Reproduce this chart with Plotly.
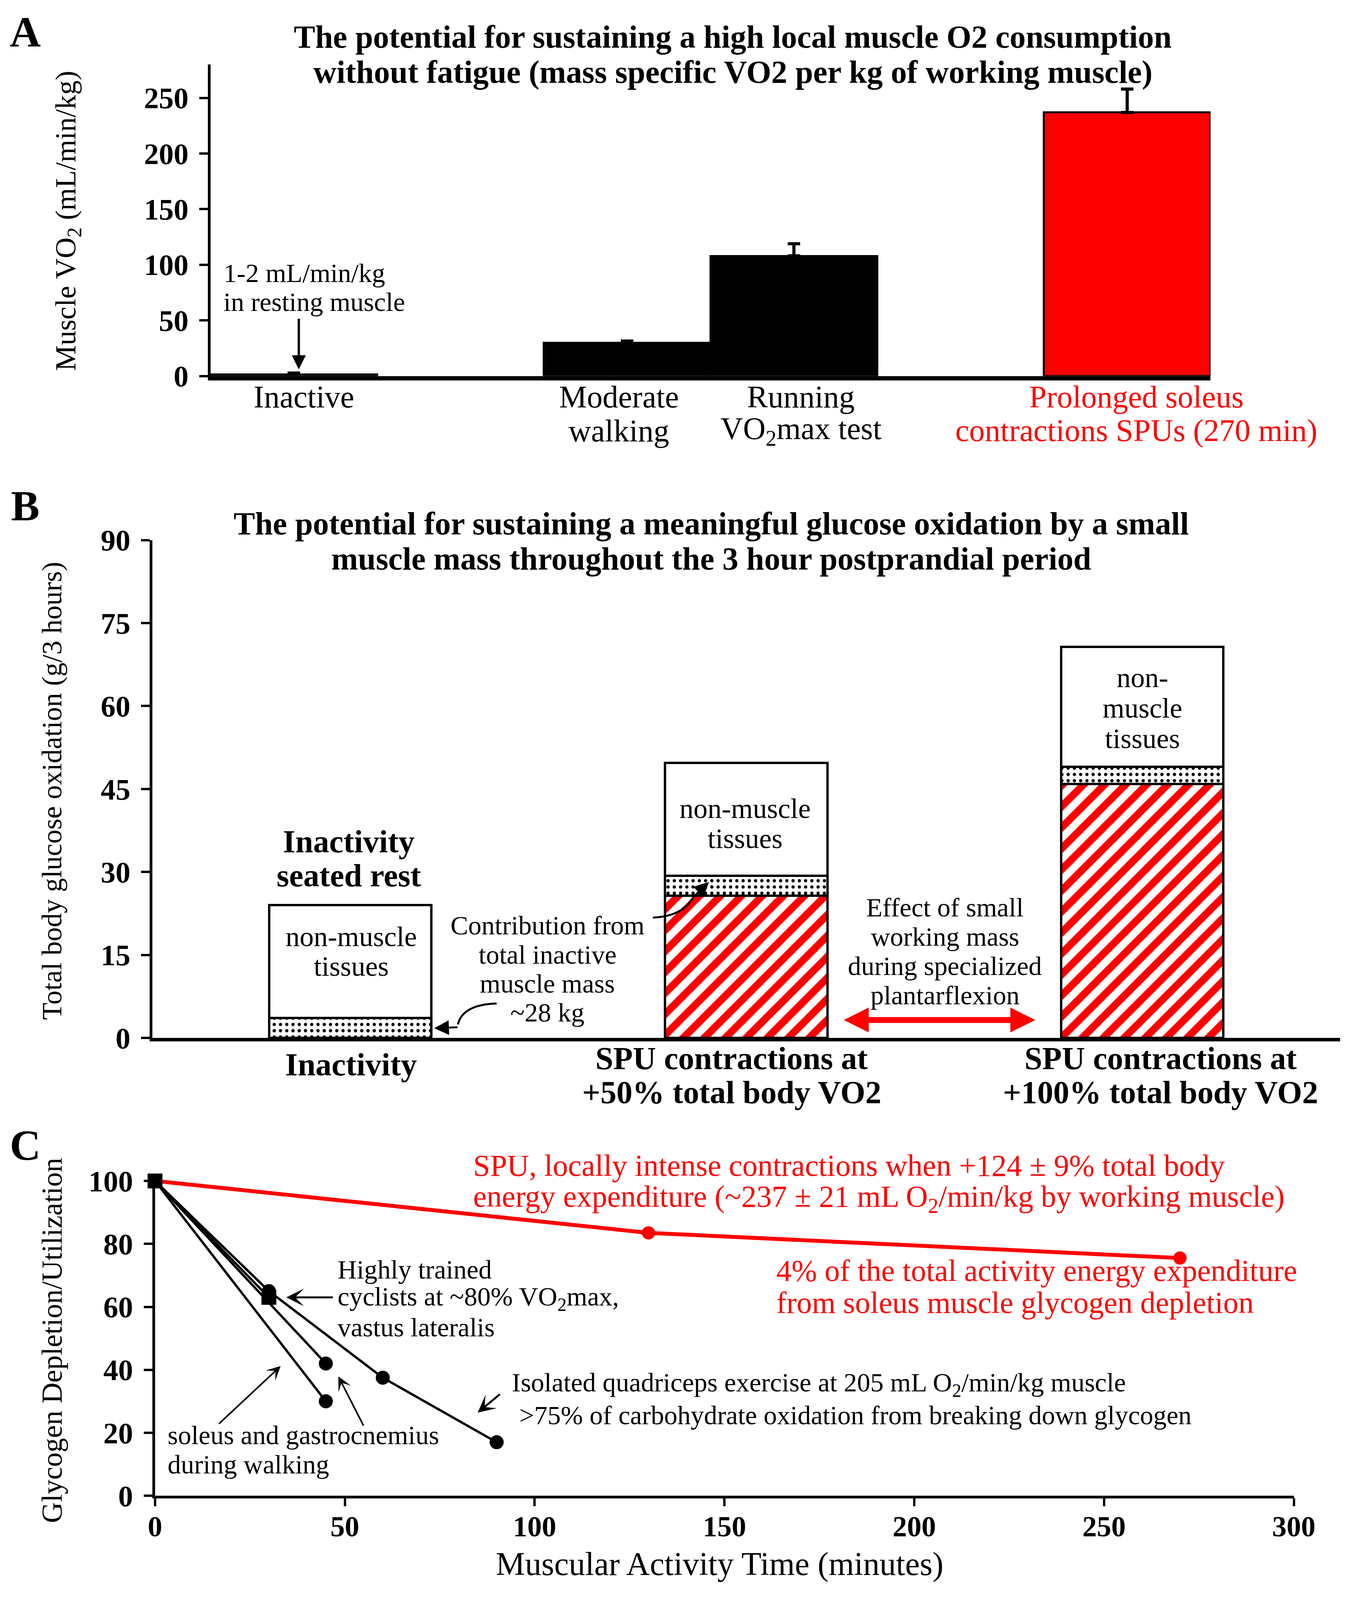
import plotly.graph_objects as go

FONT = "Liberation Serif, Times New Roman, serif"

# ---- panel A: mass specific muscle VO2 ----
a_pos = [0.5, 2.5, 3.5, 5.5]
a_vo2 = [1.5, 30, 108, 237]
a_err = [1, 1.5, 11, 21]
a_colors = ["black", "black", "black", "red"]

# ---- panel B: glucose oxidation over 3 h ----
b_groups = ["Inactivity", "SPU +50%", "SPU +100%"]
b_working = [0, 25.7, 45.9]
b_inactive_muscle = [3.6, 3.6, 3.1]
b_nonmuscle = [20.4, 20.4, 21.7]

# ---- panel C: glycogen depletion ----
c_spu_t = [0, 130, 270]
c_spu_g = [100, 83.5, 75.5]
c_quad_t = [0, 30, 60, 90]
c_quad_g = [100, 65, 37.5, 17]
c_cyc_t = [0, 30]
c_cyc_g = [100, 63]
c_sol_t = [0, 45]
c_sol_g = [100, 30]
c_gas_t = [0, 45]
c_gas_g = [100, 42]

# spots were measured on a 1100 x 1568 view of the reference
RW, RH = 1100, 1568


def px(x):
    return x / RW


def py(y):
    return 1 - y / RH


fig = go.Figure()

# A bars
fig.add_trace(go.Bar(
    x=a_pos, y=a_vo2, width=1, xaxis="x", yaxis="y", showlegend=False,
    marker=dict(color=a_colors, line=dict(color="black", width=5)),
    error_y=dict(type="data", symmetric=False, array=a_err, arrayminus=[0] * 4,
                 color="black", thickness=8, width=16)))

# B stacked bars
seg = dict(xaxis="x2", yaxis="y2", width=0.41, showlegend=False)
fig.add_trace(go.Bar(
    x=b_groups, y=b_working, **seg,
    marker=dict(color="white", line=dict(color="black", width=6),
                pattern=dict(shape="/", fgcolor="red", bgcolor="white", size=38,
                             solidity=0.5, fgopacity=1, fillmode="overlay"))))
fig.add_trace(go.Bar(
    x=b_groups, y=b_inactive_muscle, **seg,
    marker=dict(color="white", line=dict(color="black", width=6),
                pattern=dict(shape=".", fgcolor="black", bgcolor="white", size=16,
                             solidity=0.22, fgopacity=1, fillmode="overlay"))))
fig.add_trace(go.Bar(
    x=b_groups, y=b_nonmuscle, **seg,
    marker=dict(color="white", line=dict(color="black", width=6))))

# C lines
fig.add_trace(go.Scatter(x=c_spu_t, y=c_spu_g, mode="lines+markers", xaxis="x3", yaxis="y3",
                         line=dict(color="red", width=10), marker=dict(color="red", size=34),
                         cliponaxis=False, showlegend=False))
for t, g in [(c_sol_t, c_sol_g), (c_gas_t, c_gas_g), (c_quad_t, c_quad_g)]:
    fig.add_trace(go.Scatter(x=t, y=g, mode="lines+markers", xaxis="x3", yaxis="y3",
                             line=dict(color="black", width=6),
                             marker=dict(color="black", size=36),
                             cliponaxis=False, showlegend=False))
fig.add_trace(go.Scatter(x=c_cyc_t, y=c_cyc_g, mode="lines+markers", xaxis="x3", yaxis="y3",
                         line=dict(color="black", width=6),
                         marker=dict(color="black", size=38, symbol="square"),
                         cliponaxis=False, showlegend=False))

tickfont = dict(family=FONT, size=76, color="black", weight="bold")
yax = dict(showline=True, linecolor="black", linewidth=7, showgrid=False, zeroline=False,
           ticks="outside", ticklen=22, tickwidth=6, tickcolor="black",
           tickfont=tickfont, ticklabelstandoff=12)
xax = dict(showline=True, linecolor="black", linewidth=9, showgrid=False, zeroline=False,
           showticklabels=False, ticks="")

fig.update_layout(
    autosize=True, margin=dict(l=0, r=0, t=0, b=0),
    paper_bgcolor="white", plot_bgcolor="white", barmode="stack",
    font=dict(family=FONT, color="black", size=72),
    xaxis=dict(xax, domain=[0.1526, 0.9028], range=[0, 6], anchor="y", linewidth=11),
    yaxis=dict(yax, domain=[0.7703, 0.9690], range=[0, 280], dtick=50, anchor="x"),
    xaxis2=dict(xax, domain=[0.109, 1.0], range=[-0.5, 2.5], type="category", anchor="y2"),
    yaxis2=dict(yax, domain=[0.3479, 0.6656], range=[0, 90], dtick=15, anchor="x2"),
    xaxis3=dict(yax, domain=[0.111, 0.9653], range=[0, 300], dtick=50, anchor="y3",
                ticklen=20, ticklabelstandoff=-12,
                tickfont=dict(tickfont, size=74)),
    yaxis3=dict(yax, domain=[0.0558, 0.2587], range=[0, 101], dtick=20, anchor="x3"),
)

ann = []


def text(t, x, y, size=70, color="black", xanchor="center", angle=0):
    ann.append(dict(text=t, x=px(x), y=py(y), xref="paper", yref="paper", showarrow=False,
                    font=dict(family=FONT, size=size, color=color),
                    xanchor=xanchor, yanchor="middle", textangle=angle))


def lines(rows, x, y0, dy, **kw):
    for i, t in enumerate(rows):
        text(t, x, y0 + i * dy, **kw)


def arrow(x, y, ax, ay, xref, yref, color="black", width=5, size=1.4, head=2, both=False):
    ann.append(dict(text="", x=x, y=y, ax=ax, ay=ay, xref=xref, yref=yref,
                    axref=xref, ayref=yref,
                    showarrow=True, arrowcolor=color, arrowwidth=width,
                    arrowsize=size, arrowhead=head,
                    arrowside="end+start" if both else "end",
                    startarrowhead=head, startarrowsize=size))


# panel letters
text("<b>A</b>", 15, 16, size=110)
text("<b>B</b>", 15, 490, size=110)
text("<b>C</b>", 15, 1130, size=110)

# ---- A texts ----
lines(["<b>The potential for sustaining a high local muscle O2 consumption</b>",
       "<b>without fatigue (mass specific VO2 per kg of working muscle)</b>"],
      599, 21, 35, size=82)
text("Muscle VO<sub>2</sub> (mL/min/kg)", 50, 205, size=74, angle=-90)
text("Inactive", 245, 381, size=80)
lines(["Moderate", "walking"], 505, 381, 34, size=80)
lines(["Running", "VO<sub>2</sub>max test"], 655, 381, 34, size=80)
lines(["Prolonged soleus", "contractions SPUs (270 min)"], 932, 381, 34, size=80, color="red")
lines(["1-2 mL/min/kg", "in resting muscle"], 178, 257, 29, size=68, xanchor="left")
arrow(0.53, 6, 0.53, 52, "x", "y", width=6, size=1.2)

# ---- B texts ----
lines(["<b>The potential for sustaining a meaningful glucose oxidation by a small</b>",
       "<b>muscle mass throughout the 3 hour postprandial period</b>"],
      581, 508, 35, size=82)
text("Total body glucose oxidation (g/3 hours)", 37, 775, size=72, angle=-90)
text("<b>Inactivity</b>", 284, 1049, size=82)
lines(["<b>SPU contractions at</b>", "<b>+50% total body VO2</b>"], 598, 1043, 34, size=82)
lines(["<b>SPU contractions at</b>", "<b>+100% total body VO2</b>"], 952, 1043, 34, size=82)
lines(["<b>Inactivity</b>", "<b>seated rest</b>"], 282, 826, 34, size=82)
lines(["non-muscle", "tissues"], 284, 921, 30, size=72)
lines(["non-muscle", "tissues"], 609, 793, 30, size=72)
lines(["non-", "muscle", "tissues"], 937, 662, 30.5, size=72)
lines(["Contribution from", "total inactive", "muscle mass", "~28 kg"], 446, 910, 29, size=68)
lines(["Effect of small", "working mass", "during specialized", "plantarflexion"],
      774, 892, 29.3, size=68)
arrow(1.73, 3.25, 1.245, 3.25, "x2", "y2", color="red", width=15, size=0.85, both=True)

# curved pointers
fig.add_shape(type="path", xref="paper", yref="paper",
              path=f"M {px(533)},{py(902)} Q {px(558)},{py(901)} {px(567)},{py(880)}",
              line=dict(color="black", width=5))
arrow(0.906, 28.2, 0.868, 25.6, "x2", "y2", width=5, size=1.5)
fig.add_shape(type="path", xref="paper", yref="paper",
              path=f"M {px(404)},{py(988)} Q {px(376)},{py(989)} {px(372)},{py(1009)}",
              line=dict(color="black", width=5))
arrow(0.212, 1.77, 0.272, 1.94, "x2", "y2", width=5, size=1.5)

# ---- C texts ----
lines(["SPU, locally intense contractions when +124 ± 9% total body",
       "energy expenditure (~237 ± 21 mL O<sub>2</sub>/min/kg by working muscle)"],
      384, 1150, 33, size=78, color="red", xanchor="left")
lines(["4% of the total activity energy expenditure",
       "from soleus muscle glycogen depletion"],
      634, 1255, 32, size=78, color="red", xanchor="left")
lines(["Highly trained", "cyclists at ~80% VO<sub>2</sub>max,", "vastus lateralis"],
      272, 1254, 29, size=68, xanchor="left")
text("Isolated quadriceps exercise at 205 mL O<sub>2</sub>/min/kg muscle", 416, 1369,
     size=68, xanchor="left")
text(">75% of carbohydrate oxidation from breaking down glycogen", 422, 1400,
     size=68, xanchor="left")
lines(["soleus and gastrocnemius", "during walking"], 132, 1420, 29, size=68, xanchor="left")
text("Glycogen Depletion/Utilization", 37, 1325, size=74, angle=-90)
text("Muscular Activity Time (minutes)", 588, 1549, size=84)
arrow(34.6, 63, 47, 63, "x3", "y3", width=5, size=1.5, head=3)
arrow(33.1, 41.2, 16.7, 22.7, "x3", "y3", width=4, size=1.5, head=3)
arrow(48.3, 37.9, 55.0, 22.1, "x3", "y3", width=4, size=1.5, head=3)
arrow(85.0, 26.4, 91.0, 32.4, "x3", "y3", width=5, size=1.5, head=3)

fig.update_layout(annotations=ann)
fig.write_html("out.html", default_width="100vw", default_height="100vh",
               config={"displayModeBar": False},
               post_script="document.body.style.margin='0';")
